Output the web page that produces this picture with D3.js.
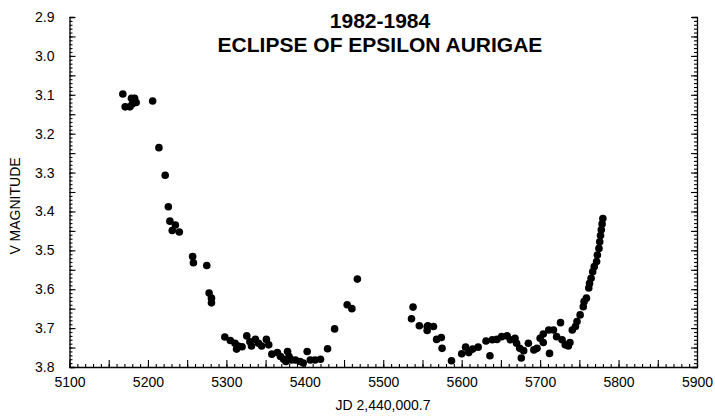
<!DOCTYPE html>
<html><head><meta charset="utf-8">
<script src="https://cdn.jsdelivr.net/npm/d3@7"></script>
<style>
body{margin:0;background:#fff;}
text{font-family:"Liberation Sans",Arial,sans-serif;fill:#000;}
</style></head>
<body><svg id="c" width="715" height="416"></svg>
<script>
const titleLines = ["1982-1984", "ECLIPSE OF EPSILON AURIGAE"];
const xLabel = "JD 2,440,000.7";
const yLabel = "V MAGNITUDE";
const xTicks = [5100,5200,5300,5400,5500,5600,5700,5800,5900];
const yTicks = [2.9,3.0,3.1,3.2,3.3,3.4,3.5,3.6,3.7,3.8];

// Julian day offsets
const jd = [
5168,5171,5177,5179,5180,5183,5185,5206,5214,5222,5226,5228,5231,5235,5240,5257,5258,5275,5278,5281,5281,
5298,5305,5311,5313,5315,5320,5326,5330,5332,5337,5341,5345,5351,5354,5358,5365,5369,5373,5376,5378,5380,5383,5388,5394,5398,5403,5407,5413,5420,5429,5438,5454,5460,5467,
5536,5538,5546,5556,5556,5557,5564,5568,5574,5575,5587,
5600,5605,5609,5614,5621,5631,5636,5639,5645,5651,5658,5662,5668,5670,5674,5676,5679,5685,5692,5696,5700,5704,5704,5711,5712,5717,5721,5726,5728,5732,5736,5738,5741,5745,5747,5751,5755,5756,5759,5762,5763,5765,5767,5769,5772,5773,5775,5776,5777,5778,5779,5780
];
// V magnitudes
const vmag = [
3.098,3.131,3.131,3.109,3.124,3.109,3.120,3.116,3.236,3.307,3.388,3.425,3.449,3.435,3.453,3.516,3.532,3.539,3.610,3.623,3.635,
3.723,3.732,3.739,3.754,3.746,3.748,3.720,3.735,3.746,3.729,3.739,3.746,3.729,3.743,3.767,3.763,3.773,3.780,3.786,3.760,3.773,3.782,3.782,3.786,3.790,3.760,3.782,3.782,3.780,3.753,3.702,3.640,3.650,3.574,
3.676,3.646,3.694,3.706,3.696,3.694,3.696,3.729,3.724,3.752,3.784,
3.766,3.749,3.763,3.754,3.749,3.733,3.771,3.730,3.729,3.722,3.720,3.730,3.726,3.739,3.752,3.777,3.758,3.739,3.756,3.752,3.726,3.737,3.715,3.705,3.765,3.705,3.722,3.686,3.730,3.743,3.746,3.737,3.705,3.696,3.683,3.666,3.645,3.632,3.623,3.597,3.585,3.572,3.555,3.542,3.529,3.512,3.495,3.478,3.462,3.447,3.432,3.418,3.405
];

const svg = d3.select("#c");
const L = 69.5, R = 697, T = 17, B = 367;
const x = d3.scaleLinear().domain([5100, 5900]).range([L, R]);
const y = d3.scaleLinear().domain([2.9, 3.8]).range([T, B]);

function styleAxis(g){ g.selectAll("path.domain").attr("stroke","#000").attr("stroke-width",1.3);
  g.selectAll(".tick line").attr("stroke","#000").attr("stroke-width",1.1); }

// x minor / mid ticks
const xMinor = d3.range(5100, 5901, 10);
const xMid = d3.range(5100, 5901, 50);
svg.append("g").attr("transform",`translate(0,${B})`)
  .call(d3.axisBottom(x).tickValues(xMinor).tickSize(-3).tickFormat("").tickSizeOuter(0))
  .call(styleAxis);
svg.append("g").attr("transform",`translate(0,${B})`)
  .call(d3.axisBottom(x).tickValues(xMid).tickSize(-7).tickFormat("").tickSizeOuter(0))
  .call(styleAxis).select("path.domain").remove();
const xg = svg.append("g").attr("transform",`translate(0,${B})`)
  .call(d3.axisBottom(x).tickValues(xTicks).tickSize(0).tickPadding(10).tickFormat(d3.format("d")));
xg.select("path.domain").remove();
xg.selectAll("text").attr("font-size",14).attr("font-family","Liberation Sans, Arial, sans-serif");

// y ticks (left and right)
const yMinor = d3.range(0, 91).map(i => 2.9 + i*0.01);
const yMid = d3.range(0, 19).map(i => 2.9 + i*0.05);
[[L, d3.axisLeft],[R, d3.axisRight]].forEach(([px, ax]) => {
  svg.append("g").attr("transform",`translate(${px},0)`)
    .call(ax(y).tickValues(yMinor).tickSize(-3).tickFormat("").tickSizeOuter(-5))
    .call(styleAxis);
  svg.append("g").attr("transform",`translate(${px},0)`)
    .call(ax(y).tickValues(yMid).tickSize(-6).tickFormat("").tickSizeOuter(0))
    .call(styleAxis).select("path.domain").remove();
});
const yg = svg.append("g").attr("transform",`translate(${L},0)`)
  .call(d3.axisLeft(y).tickValues(yTicks).tickSize(0).tickPadding(15).tickFormat(d3.format(".1f")));
yg.select("path.domain").remove();
yg.selectAll("text").attr("font-size",14).attr("font-family","Liberation Sans, Arial, sans-serif");

// points
svg.append("g").selectAll("circle").data(jd.map((d,i)=>[d, vmag[i]])).join("circle")
  .attr("cx", d => x(d[0])).attr("cy", d => y(d[1])).attr("r", 3.8).attr("fill","#000");

// titles
svg.append("text").attr("x",380).attr("y",28).attr("text-anchor","middle")
  .attr("font-size",21).attr("font-weight","bold").text(titleLines[0]);
svg.append("text").attr("x",380).attr("y",52).attr("text-anchor","middle")
  .attr("font-size",21).attr("font-weight","bold").text(titleLines[1]);
svg.append("text").attr("x",383).attr("y",410).attr("text-anchor","middle")
  .attr("font-size",14).text(xLabel);
svg.append("text").attr("transform","translate(20,206) rotate(-90)").attr("text-anchor","middle")
  .attr("font-size",14).text(yLabel);
</script></body></html>
